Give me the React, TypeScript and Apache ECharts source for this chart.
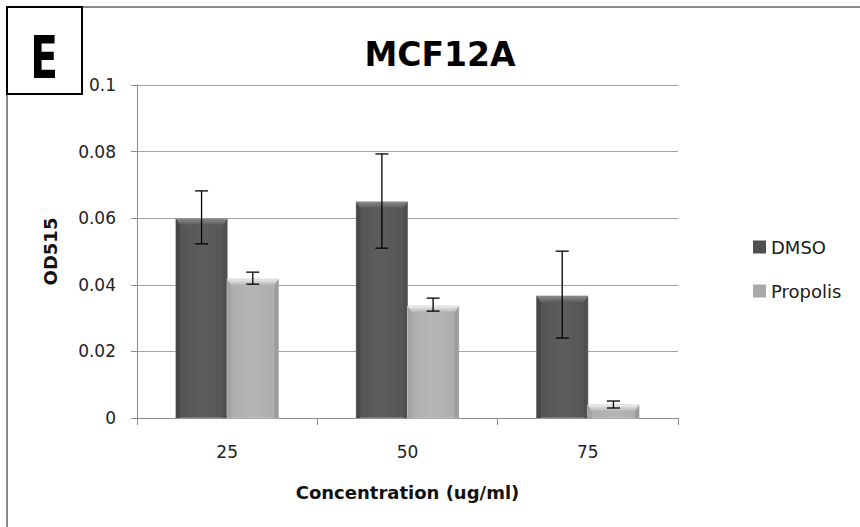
import React, { useEffect, useRef } from "react";
import * as echarts from "echarts";

const categories = ["25", "50", "75"];
const seriesNames = ["DMSO", "Propolis"];
const dmsoValues = [0.0598, 0.0649, 0.0366];
const dmsoLow = [0.0523, 0.051, 0.024];
const dmsoHigh = [0.0682, 0.0793, 0.0501];
const propolisValues = [0.0417, 0.0336, 0.0039];
const propolisLow = [0.0402, 0.0321, 0.003];
const propolisHigh = [0.0438, 0.036, 0.0051];
const yTicks = [0, 0.02, 0.04, 0.06, 0.08, 0.1];
const yTickLabels = ["0", "0.02", "0.04", "0.06", "0.08", "0.1"];

const FONT = "DejaVu Sans";
const BAR_FRAC = 0.284;

type Palette = { body: string; bodyDark: string; top: string; left: string; right: string; edge: string };
const dmsoPal: Palette = { body: "#5d5d5d", bodyDark: "#545454", top: "#8a8a8a", left: "#474747", right: "#4f4f4f", edge: "#9a9a9a" };
const propPal: Palette = { body: "#b5b5b5", bodyDark: "#acacac", top: "#ececec", left: "#a3a3a3", right: "#9c9c9c", edge: "#c8c8c8" };

function makeBarRender(side: number, pal: Palette) {
  return (params: any, api: any) => {
    const idx = api.value(0);
    const val = api.value(1);
    const top = api.coord([idx, val]);
    const base = api.coord([idx, 0]);
    const bandW = api.size([1, 0])[0];
    const bw = bandW * BAR_FRAC;
    const x0 = side < 0 ? top[0] - bw : top[0];
    const y0 = top[1];
    const h = base[1] - y0;
    const b = Math.min(6, h / 2);
    const s = 4;
    return {
      type: "group",
      children: [
        {
          type: "rect",
          shape: { x: x0, y: y0, width: bw, height: h },
          style: {
            fill: new echarts.graphic.LinearGradient(0, 0, 1, 0, [
              { offset: 0, color: pal.bodyDark },
              { offset: 0.5, color: pal.body },
              { offset: 1, color: pal.bodyDark },
            ]),
            stroke: pal.edge,
            lineWidth: 1,
          },
        },
        {
          type: "polygon",
          shape: { points: [[x0, y0], [x0 + s, y0 + b], [x0 + s, base[1]], [x0, base[1]]] },
          style: { fill: pal.left },
        },
        {
          type: "polygon",
          shape: { points: [[x0 + bw, y0], [x0 + bw - s, y0 + b], [x0 + bw - s, base[1]], [x0 + bw, base[1]]] },
          style: { fill: pal.right },
        },
        {
          type: "polygon",
          shape: { points: [[x0, y0], [x0 + bw, y0], [x0 + bw - s, y0 + b], [x0 + s, y0 + b]] },
          style: {
            fill: new echarts.graphic.LinearGradient(0, 0, 0, 1, [
              { offset: 0, color: pal.top },
              { offset: 1, color: pal.body },
            ]),
          },
        },
      ],
    };
  };
}

function makeErrRender(side: number) {
  return (params: any, api: any) => {
    const idx = api.value(0);
    const hi = api.coord([idx, api.value(2)]);
    const lo = api.coord([idx, api.value(1)]);
    const bandW = api.size([1, 0])[0];
    const bw = bandW * BAR_FRAC;
    const cx = hi[0] + (side * bw) / 2;
    const cap = 6.5;
    const st = { stroke: "#000", lineWidth: 1.3 };
    return {
      type: "group",
      children: [
        { type: "line", shape: { x1: cx, y1: hi[1], x2: cx, y2: lo[1] }, style: st },
        { type: "line", shape: { x1: cx - cap, y1: hi[1], x2: cx + cap, y2: hi[1] }, style: st },
        { type: "line", shape: { x1: cx - cap, y1: lo[1], x2: cx + cap, y2: lo[1] }, style: st },
      ],
    };
  };
}

export default function App() {
  const ref = useRef<HTMLDivElement>(null);
  useEffect(() => {
    document.body.style.margin = "0";
    const chart = echarts.init(ref.current!, null, { renderer: "svg" });
    const dmsoData = dmsoValues.map((v, i) => [i, v]);
    const propData = propolisValues.map((v, i) => [i, v]);
    const dmsoErr = dmsoLow.map((l, i) => [i, l, dmsoHigh[i]]);
    const propErr = propolisLow.map((l, i) => [i, l, propolisHigh[i]]);
    chart.setOption({
      animation: false,
      backgroundColor: "#ffffff",
      grid: { left: 137, right: 182, top: 85, bottom: 109, containLabel: false },
      legend: {
        data: seriesNames,
        orient: "vertical",
        left: 748,
        top: 233,
        icon: "rect",
        itemWidth: 13,
        itemHeight: 13,
        itemGap: 26,
        textStyle: { fontFamily: FONT, fontSize: 18, color: "#1a1a1a", lineHeight: 18 },
      },
      xAxis: {
        type: "category",
        data: categories,
        boundaryGap: true,
        name: "Concentration (ug/ml)",
        nameLocation: "middle",
        nameGap: 65,
        nameTextStyle: { fontFamily: FONT, fontSize: 18, fontWeight: "bold", color: "#111" },
        axisLine: { lineStyle: { color: "#8c8c8c", width: 1 } },
        axisTick: { show: true, length: 7, lineStyle: { color: "#8c8c8c" } },
        axisLabel: { fontFamily: FONT, fontSize: 17, color: "#222", margin: 25 },
        splitLine: { show: false },
      },
      yAxis: {
        type: "value",
        min: 0,
        max: 0.1,
        interval: 0.02,
        name: "OD515",
        nameLocation: "middle",
        nameGap: 78,
        nameTextStyle: { fontFamily: FONT, fontSize: 18, fontWeight: "bold", color: "#111" },
        axisLine: { show: true, lineStyle: { color: "#8c8c8c", width: 1 } },
        axisTick: { show: true, length: 6, lineStyle: { color: "#8c8c8c" } },
        axisLabel: {
          fontFamily: FONT,
          fontSize: 17,
          color: "#222",
          margin: 21,
          formatter: (v: number) => {
            const k = yTicks.findIndex((t) => Math.abs(t - v) < 1e-9);
            return k >= 0 ? yTickLabels[k] : String(v);
          },
        },
        splitLine: { show: true, lineStyle: { color: "#a3a3a3", width: 1 } },
      },
      graphic: [
        {
          type: "rect",
          shape: { x: 7, y: 7, width: 900, height: 600 },
          style: { fill: "none", stroke: "#8a8a8a", lineWidth: 2 },
          silent: true,
          z: -1,
        },
        {
          type: "rect",
          shape: { x: 7, y: 7, width: 75, height: 87 },
          style: { fill: "#ffffff", stroke: "#000000", lineWidth: 2 },
          z: 10,
        },
        {
          type: "text",
          x: 44,
          y: 58,
          scaleX: 0.7,
          z: 11,
          style: {
            text: "E",
            font: `bold 58px ${FONT}`,
            fill: "#000",
            align: "center",
            verticalAlign: "middle",
          },
        },
        {
          type: "text",
          x: 440,
          y: 54,
          z: 11,
          style: {
            text: "MCF12A",
            font: `bold 33px ${FONT}`,
            fill: "#000",
            align: "center",
            verticalAlign: "middle",
          },
        },
      ],
      series: [
        {
          name: "DMSO",
          type: "custom",
          data: dmsoData,
          encode: { x: 0, y: 1 },
          itemStyle: { color: "#4f4f4f" },
          renderItem: makeBarRender(-1, dmsoPal),
          z: 2,
        },
        {
          name: "Propolis",
          type: "custom",
          data: propData,
          encode: { x: 0, y: 1 },
          itemStyle: { color: "#a9a9a9" },
          renderItem: makeBarRender(1, propPal),
          z: 2,
        },
        {
          name: "DMSO error",
          type: "custom",
          data: dmsoErr,
          encode: { x: 0, y: [1, 2] },
          renderItem: makeErrRender(-1),
          z: 5,
        },
        {
          name: "Propolis error",
          type: "custom",
          data: propErr,
          encode: { x: 0, y: [1, 2] },
          renderItem: makeErrRender(1),
          z: 5,
        },
      ],
    });
    return () => chart.dispose();
  }, []);
  return <div ref={ref} style={{ width: 860, height: 527, position: "absolute", left: 0, top: 0 }} />;
}
